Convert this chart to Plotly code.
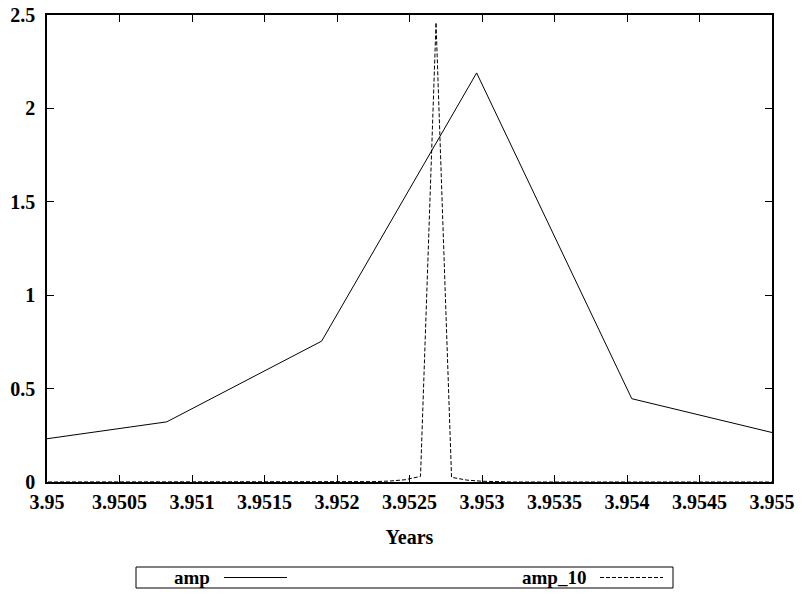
import plotly.graph_objects as go

# ---- data ----
amp_years = [3.949757, 3.950826, 3.951894, 3.952963, 3.954033, 3.955101]
amp_values = [0.205, 0.322, 0.754, 2.19, 0.446, 0.246]

amp10_years = [3.9498, 3.952148, 3.952255, 3.952362, 3.952469, 3.952576,
               3.952683, 3.952790, 3.952897, 3.953003, 3.953110, 3.953217, 3.9552]
amp10_values = [0.0, 0.0, 0.002, 0.005, 0.012, 0.03,
                2.46, 0.025, 0.01, 0.004, 0.001, 0.0, 0.0]

x_tick_vals = [3.95, 3.9505, 3.951, 3.9515, 3.952, 3.9525, 3.953, 3.9535, 3.954, 3.9545, 3.955]
x_tick_text = ["3.95", "3.9505", "3.951", "3.9515", "3.952", "3.9525", "3.953", "3.9535", "3.954", "3.9545", "3.955"]
y_tick_vals = [0, 0.5, 1, 1.5, 2, 2.5]
y_tick_text = ["0", "0.5", "1", "1.5", "2", "2.5"]

series_names = ["amp", "amp_10"]

FONT = "Liberation Serif, Times New Roman, Times, serif"
W, H = 802, 594
# plot frame in page pixels: x 47..772, y 15..482
L, T = 47, 15
R = W - 772
B = H - 482

fig = go.Figure()
fig.add_trace(go.Scatter(x=amp_years, y=amp_values, mode="lines", name=series_names[0],
                         line=dict(color="black", width=1), showlegend=False, hoverinfo="skip"))
fig.add_trace(go.Scatter(x=amp10_years, y=amp10_values, mode="lines", name=series_names[1],
                         line=dict(color="black", width=1, dash="4px,2px"), showlegend=False,
                         hoverinfo="skip"))

tickfont = dict(family=FONT, size=20, color="black", weight="bold")
axis_common = dict(showgrid=False, zeroline=False, showline=True, linecolor="black", linewidth=1.5,
                   mirror="ticks", ticks="inside", ticklen=7, tickwidth=1, tickcolor="black",
                   tickfont=tickfont)

fig.update_xaxes(range=[3.95, 3.955], tickvals=x_tick_vals, ticktext=x_tick_text,
                 ticklabelstandoff=1,
                 title=dict(text="Years", font=dict(family=FONT, size=20, color="black", weight="bold"),
                            standoff=18),
                 **axis_common)
fig.update_yaxes(range=[0, 2.5], tickvals=y_tick_vals, ticktext=y_tick_text,
                 ticklabelstandoff=6, **axis_common)

# ---- legend (gnuplot style: boxed, text before sample), page pixel positions ----
pw = W - L - R
ph = H - T - B
def px(xp):
    return (xp - L) / pw
def py(yp):
    return (H - B - yp) / ph

box_x0, box_x1, box_y0, box_y1 = 136, 673, 567, 588
shapes = [dict(type="rect", xref="paper", yref="paper", x0=px(box_x0), x1=px(box_x1),
               y0=py(box_y1), y1=py(box_y0), line=dict(color="black", width=1))]
ymid = py((box_y0 + box_y1) / 2)
shapes.append(dict(type="line", xref="paper", yref="paper", x0=px(224), x1=px(287), y0=ymid, y1=ymid,
                   line=dict(color="black", width=1)))
shapes.append(dict(type="line", xref="paper", yref="paper", x0=px(600), x1=px(663), y0=ymid, y1=ymid,
                   line=dict(color="black", width=1, dash="4px,2px")))
legfont = dict(family=FONT, size=19, color="black", weight="bold")
annotations = [
    dict(text=series_names[0], xref="paper", yref="paper", x=px(212), y=ymid,
         xanchor="right", yanchor="middle", showarrow=False, font=legfont),
    dict(text=series_names[1], xref="paper", yref="paper", x=px(588), y=ymid,
         xanchor="right", yanchor="middle", showarrow=False, font=legfont),
]

fig.update_layout(width=W, height=H, margin=dict(l=L, r=R, t=T, b=B, autoexpand=False),
                  plot_bgcolor="white", paper_bgcolor="white", shapes=shapes, annotations=annotations,
                  font=dict(family=FONT, color="black"), hovermode=False)

fig.write_html("out.html", config={"displayModeBar": False},
               post_script="document.body.style.margin='0px';")
